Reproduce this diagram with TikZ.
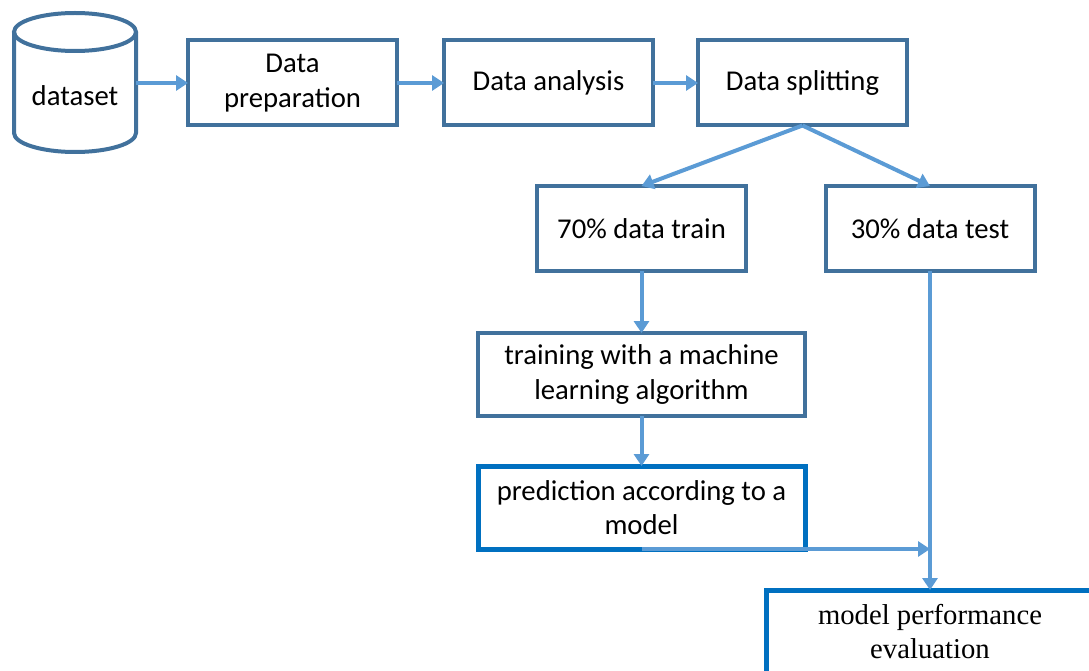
\documentclass[tikz,border=0pt]{standalone}
\usepackage{fontspec}
\setmainfont{Carlito}
\newfontfamily\timesfont{Liberation Serif}
\usetikzlibrary{arrows.meta, positioning}

\definecolor{boxblue}{RGB}{65,113,156}
\definecolor{arrowblue}{RGB}{91,155,213}
\definecolor{modelblue}{RGB}{0,112,192}

\tikzset{
  stepbox/.style={draw=boxblue, line width=4pt, rectangle, minimum width=209pt,
                  minimum height=85pt, align=center, inner sep=2pt, outer sep=0pt},
  widebox/.style={stepbox, minimum width=327pt, minimum height=83pt},
  bluebox/.style={widebox, draw=modelblue, line width=5pt},
  flow/.style={->, draw=arrowblue, line width=4pt},
  dbline/.style={draw=boxblue, line width=4pt},
}

\begin{document}
\begin{tikzpicture}[>={Triangle[width=15pt,length=12pt]}, font=\fontsize{28.7}{34.5}\selectfont]
\useasboundingbox (0,0) rectangle (1089pt,-671pt);
\clip (0,0) rectangle (1089pt,-671pt);

% dataset drum
\node[minimum width=122pt, minimum height=100pt, inner sep=0pt, outer sep=0pt] (dataset) at (75pt,-96pt) {dataset};
\draw[dbline] (75pt,-32pt) ellipse [x radius=61pt, y radius=19pt];
\draw[dbline] (14pt,-32pt) -- (14pt,-133pt) arc[start angle=180, end angle=360, x radius=61pt, y radius=19pt] -- (136pt,-32pt);

\node[stepbox, right=52pt of dataset, yshift=13pt] (prep) {Data\\preparation};
\node[stepbox, right=47pt of prep] (analysis) {Data analysis};
\node[stepbox, right=45pt of analysis] (splitting) {Data splitting};

\node[stepbox, below=60.5pt of splitting, xshift=-161pt] (train) {70\% data train};
\node[stepbox, below=60.5pt of splitting, xshift=127.5pt] (test) {30\% data test};
\node[widebox, below=62pt of train] (training) {training with a machine\\learning algorithm};
\node[bluebox, below=50pt of training] (prediction) {prediction according to a\\model};

\coordinate (merge) at (prediction.south -| test.south);
\node[bluebox, below=41pt of merge, font=\timesfont\fontsize{28.7}{34.5}\selectfont] (evaluation) {model performance\\evaluation};

\draw[flow] (dataset.east |- prep.west) -- (prep.west);
\draw[flow] (prep) -- (analysis);
\draw[flow] (analysis) -- (splitting);
\draw[flow] (splitting.south) -- (train.north);
\draw[flow] (splitting.south) -- (test.north);
\draw[flow] (train) -- (training);
\draw[flow] (training) -- (prediction);
\draw[flow] (prediction.south) -- (merge);
\draw[flow] (test) -- (evaluation);
\end{tikzpicture}
\end{document}
